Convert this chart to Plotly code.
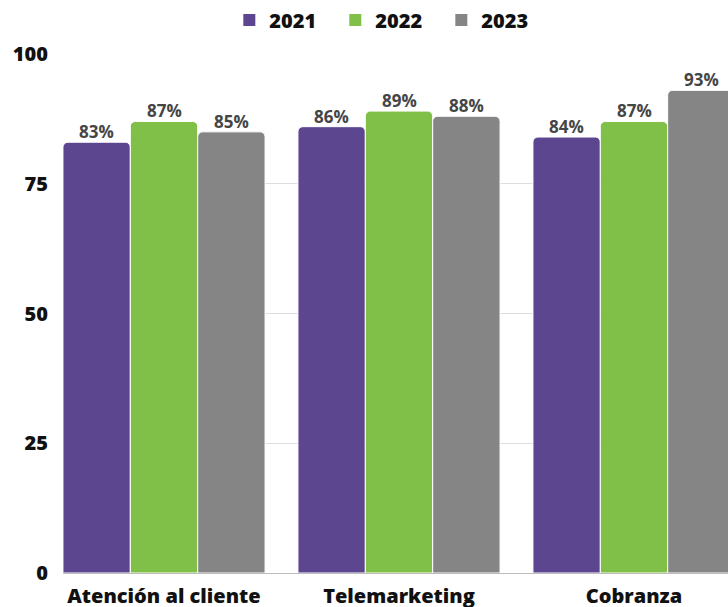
import plotly.graph_objects as go

categories = ["Atención al cliente", "Telemarketing", "Cobranza"]
years = ["2021", "2022", "2023"]
values_2021 = [83, 86, 84]
values_2022 = [87, 89, 87]
values_2023 = [85, 88, 93]
colors = ["#5D4690", "#80BF48", "#858585"]

series = [values_2021, values_2022, values_2023]
xpos = list(range(len(categories)))
bargap = 0.14
nser = len(series)
slot = (1 - bargap) / nser

fig = go.Figure()
for k, (name, vals, col) in enumerate(zip(years, series, colors)):
    fig.add_trace(go.Bar(
        x=xpos, y=vals, name=name, showlegend=False,
        marker=dict(color=col, line=dict(color="white", width=1), cornerradius=5),
        hoverinfo="skip",
    ))
    # plain square swatch for the legend entry
    fig.add_trace(go.Scatter(
        x=[None], y=[None], mode="markers", name=name,
        marker=dict(symbol="square", size=12, color=col),
    ))
    # value labels sitting just above each bar
    offset = (k - (nser - 1) / 2) * slot
    for xi, v in zip(xpos, vals):
        fig.add_annotation(
            x=xi + offset, y=v, text=f"{v}%", showarrow=False,
            xref="x", yref="y", yanchor="bottom", yshift=-3,
            font=dict(family="Open Sans", size=17, color="#454545", weight=700),
        )

fig.update_layout(
    width=728, height=607,
    margin=dict(l=63, r=0, t=54, b=34),
    barmode="group", bargap=bargap, bargroupgap=0,
    plot_bgcolor="white", paper_bgcolor="white",
    font=dict(family="Open Sans", color="#111111"),
    legend=dict(orientation="h", x=0.315, xref="container", xanchor="left",
                y=0.967, yref="container", yanchor="middle",
                font=dict(size=20, weight=800, color="#111111"),
                itemwidth=30, entrywidth=61, entrywidthmode="pixels",
                traceorder="normal"),
)
fig.update_xaxes(
    tickvals=xpos, ticktext=categories, automargin=False,
    range=[-0.4298, 2.4], showgrid=False, zeroline=False,
    showline=False, ticks="", ticklabelstandoff=9,
    tickfont=dict(size=20, weight=800, color="#111111"),
)
fig.update_yaxes(
    range=[0, 100], tickvals=[0, 25, 50, 75, 100], automargin=False,
    showgrid=True, gridcolor="#DDDDDD", gridwidth=1,
    zeroline=True, zerolinecolor="#BBBBBB", zerolinewidth=1,
    ticks="", ticklabelstandoff=14,
    tickfont=dict(size=20, weight=800, color="#111111"),
)

fig.write_html("out.html")
